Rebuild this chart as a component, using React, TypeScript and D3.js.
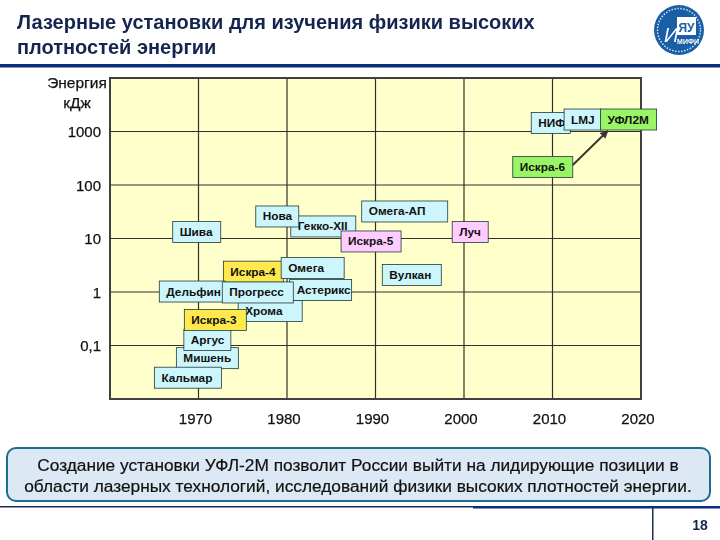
import { useEffect, useRef } from "react";
import * as d3 from "d3";

// Title and footer text
const titleLines = ["Лазерные установки для изучения физики высоких", "плотностей энергии"];
const noteLines = [
  "Создание установки УФЛ-2М позволит России выйти на лидирующие позиции в",
  "области лазерных технологий, исследований физики высоких плотностей энергии.",
];

// Axis ticks
const yearTicks = [1970, 1980, 1990, 2000, 2010, 2020];
const energyTicks = [1000, 100, 10, 1, 0.1];
const energyTitle = ["Энергия", "кДж"];

// Facilities, listed back to front because the boxes overlap
const names = [
  "Шива", "Гекко-XII", "Нова", "Омега-АП", "Искра-5", "Луч", "Искра-4", "Омега", "Вулкан",
  "Хрома", "Астерикс", "Дельфин", "Прогресс", "Мишень", "Аргус", "Искра-3", "Кальмар",
  "Искра-6", "НИФ", "LMJ", "УФЛ2М",
];
const years = [
  1969.8, 1984.1, 1978.9, 1993.3, 1989.5, 2000.7, 1976.2, 1982.9, 1994.1,
  1978.1, 1983.8, 1969.3, 1976.7, 1971, 1971, 1971.9, 1968.8,
  2008.9, 2009.8, 2013.4, 2018.6,
];
const energies = [
  13.2, 16.8, 25.8, 32, 8.8, 13.2, 2.4, 2.8, 2.08,
  0.44, 1.09, 1.02, 0.98, 0.058, 0.127, 0.3, 0.025,
  217, 1440, 1675, 1675,
];
const kinds = [
  "foreign", "foreign", "foreign", "foreign", "russian", "russian", "early", "foreign", "foreign",
  "foreign", "foreign", "foreign", "foreign", "foreign", "foreign", "early", "foreign",
  "future", "foreign", "foreign", "future",
];

const boxColor: Record<string, string> = {
  foreign: "#ccf6fb",
  russian: "#ffccff",
  early: "#ffe94d",
  future: "#99f566",
};

// Box widths in px, the slide's boxes are not fitted to their text
const boxWidth: Record<string, number> = {
  "Шива": 48, "Гекко-XII": 65, "Нова": 43, "Омега-АП": 86, "Искра-5": 60, "Луч": 36,
  "Искра-4": 60, "Омега": 63, "Вулкан": 59, "Хрома": 64, "Астерикс": 62, "Дельфин": 66,
  "Прогресс": 71, "Мишень": 62, "Аргус": 47, "Искра-3": 62, "Кальмар": 67,
  "Искра-6": 60, "НИФ": 39, "LMJ": 37, "УФЛ2М": 56,
};

function App() {
  const svgRef = useRef<SVGSVGElement>(null);

  useEffect(() => {
    if (!svgRef.current) return;
    const svg = d3.select(svgRef.current);
    svg.selectAll("*").remove();

    const font = "'Liberation Sans', Arial, sans-serif";
    const margin = { top: 78, right: 79, bottom: 141, left: 110 };
    const x = d3.scaleLinear().domain([1960, 2020]).range([margin.left, 720 - margin.right]);
    const y = d3.scaleLog().domain([0.01, 10000]).range([540 - margin.bottom, margin.top]);

    // Header
    svg.append("g")
      .selectAll("text")
      .data(titleLines)
      .join("text")
      .attr("x", 17)
      .attr("y", (_, i) => 29 + i * 25)
      .attr("fill", "#14264f")
      .style("font", `bold 20px ${font}`)
      .text((d) => d);
    svg.append("rect").attr("x", 0).attr("y", 64).attr("width", 720).attr("height", 3.5).attr("fill", "#0b2f7d");

    // Logo
    const logo = svg.append("g").attr("transform", "translate(679,30)");
    logo.append("circle").attr("r", 25).attr("fill", "#1a5fa5");
    logo.append("circle").attr("r", 21.5).attr("fill", "none").attr("stroke", "#d5e4f2").attr("stroke-width", 1.5).attr("stroke-dasharray", "1.5 1.5");
    logo.append("rect").attr("x", -2).attr("y", -13).attr("width", 19).attr("height", 18).attr("fill", "#fff");
    logo.append("text").attr("x", -15).attr("y", 12).attr("fill", "#fff").style("font", `italic 20px ${font}`).text("И");
    logo.append("text").attr("x", 7.5).attr("y", 2).attr("text-anchor", "middle").attr("fill", "#1a5fa5").style("font", `bold 12px ${font}`).text("ЯУ");
    logo.append("text").attr("x", 9).attr("y", 14).attr("text-anchor", "middle").attr("fill", "#fff").style("font", `bold 7px ${font}`).text("МИФИ");

    // Plot
    svg.append("rect")
      .attr("x", margin.left)
      .attr("y", margin.top)
      .attr("width", x.range()[1] - margin.left)
      .attr("height", y.range()[0] - margin.top)
      .attr("fill", "#ffffcc");

    const grid = svg.append("g").attr("stroke", "#33302a").attr("stroke-width", 1.2);
    grid.selectAll("line.v")
      .data(yearTicks.slice(0, -1))
      .join("line")
      .attr("class", "v")
      .attr("x1", (d) => x(d))
      .attr("x2", (d) => x(d))
      .attr("y1", y.range()[1])
      .attr("y2", y.range()[0]);
    grid.selectAll("line.h")
      .data(energyTicks)
      .join("line")
      .attr("class", "h")
      .attr("x1", x.range()[0])
      .attr("x2", x.range()[1])
      .attr("y1", (d) => y(d))
      .attr("y2", (d) => y(d));

    svg.append("rect")
      .attr("x", margin.left)
      .attr("y", margin.top)
      .attr("width", x.range()[1] - margin.left)
      .attr("height", y.range()[0] - margin.top)
      .attr("fill", "none")
      .attr("stroke", "#404040")
      .attr("stroke-width", 2);

    // Axis labels
    svg.append("g")
      .selectAll("text")
      .data(yearTicks)
      .join("text")
      .attr("x", (d) => x(d) - 3)
      .attr("y", 424)
      .attr("text-anchor", "middle")
      .attr("fill", "#111")
      .attr("stroke", "#111")
      .attr("stroke-width", 0.25)
      .style("font", `15px ${font}`)
      .text((d) => d);
    svg.append("g")
      .selectAll("text")
      .data(energyTicks)
      .join("text")
      .attr("x", 101)
      .attr("y", (d) => y(d) + 5.5)
      .attr("text-anchor", "end")
      .attr("fill", "#111")
      .attr("stroke", "#111")
      .attr("stroke-width", 0.25)
      .style("font", `15px ${font}`)
      .text((d) => String(d).replace(".", ","));
    svg.append("g")
      .selectAll("text")
      .data(energyTitle)
      .join("text")
      .attr("x", 77)
      .attr("y", (_, i) => 88 + i * 20)
      .attr("text-anchor", "middle")
      .attr("fill", "#111")
      .attr("stroke", "#111")
      .attr("stroke-width", 0.25)
      .style("font", `15.5px ${font}`)
      .text((d) => d);

    // Facility boxes
    const boxH = 21;
    const rows = names.map((name, i) => ({ name, year: years[i], energy: energies[i], kind: kinds[i] }));
    const boxes = svg.append("g").selectAll("g")
      .data(rows)
      .join("g")
      .attr("transform", (d) => `translate(${x(d.year)},${y(d.energy)})`);
    boxes.append("rect")
      .attr("x", (d) => -boxWidth[d.name] / 2)
      .attr("y", -boxH / 2)
      .attr("width", (d) => boxWidth[d.name])
      .attr("height", boxH)
      .attr("fill", (d) => boxColor[d.kind])
      .attr("stroke", "#1f3a3a")
      .attr("stroke-width", 0.8);
    boxes.append("text")
      .attr("x", (d) => -boxWidth[d.name] / 2 + 7)
      .attr("y", 4)
      .attr("fill", "#111")
      .style("font", `bold 11.8px ${font}`)
      .text((d) => d.name);

    // Arrow from Искра-6 to УФЛ2М
    svg.append("defs")
      .append("marker")
      .attr("id", "head")
      .attr("viewBox", "0 0 8 8")
      .attr("refX", 7)
      .attr("refY", 4)
      .attr("markerWidth", 4)
      .attr("markerHeight", 4)
      .attr("orient", "auto")
      .append("path")
      .attr("d", "M0,0L8,4L0,8Z")
      .attr("fill", "#3a3330");
    const from = rows.find((d) => d.name === "Искра-6")!;
    const to = rows.find((d) => d.name === "УФЛ2М")!;
    svg.append("line")
      .attr("x1", x(from.year) + boxWidth[from.name] / 2)
      .attr("y1", y(from.energy) - 2)
      .attr("x2", x(to.year) - boxWidth[to.name] / 2 + 7)
      .attr("y2", y(to.energy) + boxH / 2 + 1)
      .attr("stroke", "#3a3330")
      .attr("stroke-width", 2)
      .attr("marker-end", "url(#head)");

    // Note under the chart
    svg.append("rect")
      .attr("x", 7)
      .attr("y", 448)
      .attr("width", 703)
      .attr("height", 53)
      .attr("rx", 9)
      .attr("fill", "#dce8f4")
      .attr("stroke", "#1d6d8e")
      .attr("stroke-width", 2);
    svg.append("g")
      .selectAll("text")
      .data(noteLines)
      .join("text")
      .attr("x", 358)
      .attr("y", (_, i) => 471 + i * 20.5)
      .attr("text-anchor", "middle")
      .attr("fill", "#111")
      .attr("stroke", "#111")
      .attr("stroke-width", 0.2)
      .style("font", `17.3px ${font}`)
      .text((d) => d);

    // Page footer
    svg.append("rect").attr("x", 0).attr("y", 506).attr("width", 473).attr("height", 1.5).attr("fill", "#1c2f52");
    svg.append("rect").attr("x", 473).attr("y", 506).attr("width", 247).attr("height", 2.5).attr("fill", "#0b2f7d");
    svg.append("rect").attr("x", 652).attr("y", 508).attr("width", 1.5).attr("height", 32).attr("fill", "#1c2f52");
    svg.append("text")
      .attr("x", 700)
      .attr("y", 530)
      .attr("text-anchor", "middle")
      .attr("fill", "#14264f")
      .style("font", `bold 14px ${font}`)
      .text("18");
  }, []);

  return <svg ref={svgRef} width={720} height={540} style={{ position: "fixed", left: 0, top: 0 }} />;
}

export default App;
